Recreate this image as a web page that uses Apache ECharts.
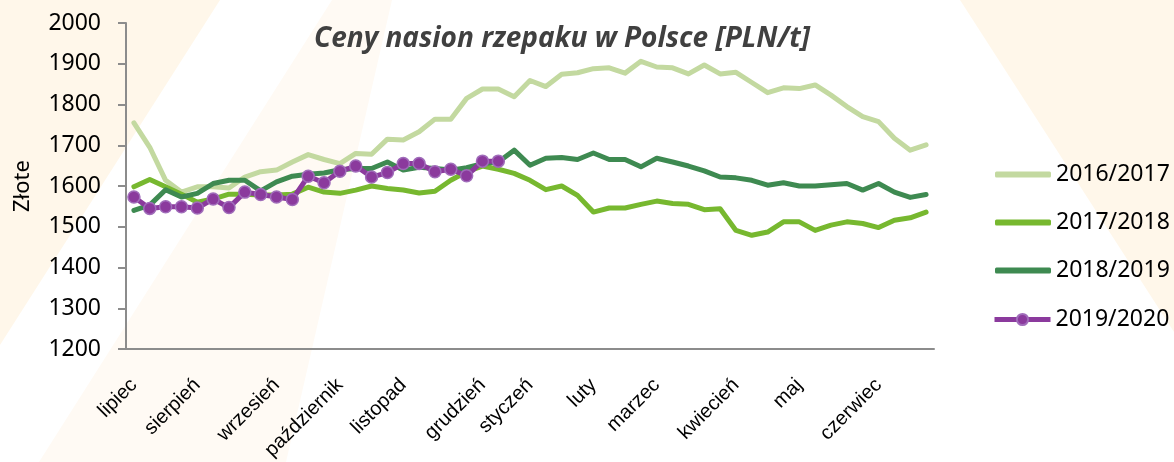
<!DOCTYPE html>
<html>
<head>
<meta charset="utf-8">
<script src="https://cdn.jsdelivr.net/npm/echarts@6/dist/echarts.min.js"></script>
<style>
  html, body { margin: 0; padding: 0; background: #fff; }
  #ceny-rzepaku { width: 1174px; height: 462px; }
</style>
</head>
<body>
<div id="ceny-rzepaku"></div>
<script>
// tygodnie sezonu (lipiec - czerwiec), podpis tylko przy pierwszym tygodniu miesiaca
const weeks = [
  'lipiec', '', '', '', 'sierpień', '', '', '', '', 'wrzesień', '', '', '', 'październik', '', '', '', 'listopad',
  '', '', '', '', 'grudzień', '', '', 'styczeń', '', '', '', 'luty', '', '', '', 'marzec', '', '', '', '',
  'kwiecień', '', '', '', 'maj', '', '', '', '', 'czerwiec', '', '', ''
]
const yTicks = [1200, 1300, 1400, 1500, 1600, 1700, 1800, 1900, 2000]
const s2016 = [
  1755, 1695, 1614, 1585, 1598, 1598, 1595, 1622, 1635, 1639, 1659, 1677, 1665, 1655, 1680, 1678, 1715,
  1713, 1733, 1764, 1764, 1815, 1838, 1838, 1819, 1859, 1844, 1874, 1878, 1888, 1890, 1877, 1906, 1892,
  1890, 1875, 1897, 1875, 1879, 1854, 1829, 1841, 1839, 1848, 1823, 1795, 1770, 1758, 1717, 1688, 1701
]
const s2017 = [
  1598, 1616, 1598, 1580, 1560, 1568, 1580, 1580, 1578, 1578, 1580, 1597, 1585, 1582, 1590, 1600, 1594,
  1590, 1583, 1587, 1614, 1635, 1649, 1641, 1631, 1614, 1591, 1600, 1577, 1536, 1546, 1546, 1555, 1563,
  1557, 1555, 1542, 1544, 1491, 1479, 1487, 1512, 1512, 1491, 1504, 1512, 1508, 1498, 1516, 1522, 1536
]
const s2018 = [
  1540, 1553, 1591, 1573, 1582, 1606, 1614, 1614, 1588, 1610, 1624, 1629, 1632, 1640, 1643, 1643, 1659,
  1639, 1646, 1643, 1639, 1645, 1655, 1659, 1688, 1651, 1668, 1670, 1665, 1681, 1665, 1665, 1647, 1668,
  1659, 1649, 1637, 1622, 1620, 1614, 1602, 1608, 1600, 1600, 1603, 1606, 1590, 1606, 1585, 1572, 1579
]
const s2019 = [
  1573, 1545, 1549, 1549, 1546, 1568, 1547, 1585, 1579, 1573, 1567, 1624, 1608, 1636, 1649, 1622, 1633,
  1655, 1655, 1635, 1641, 1625, 1661, 1661
]

const drawChart = function () {
  const chartDom = document.getElementById('ceny-rzepaku')
  const myChart = echarts.init(chartDom)
  const lineSeries = function (name, data, color) {
    return {
      name: name,
      type: 'line',
      data: data,
      symbol: 'none',
      lineStyle: { color: color, width: 5, cap: 'round', join: 'round' },
      itemStyle: { color: color }
    }
  }
  const legendText = { fontSize: 23, color: '#000', fontFamily: 'Noto Sans' }
  const option = {
    animation: false,
    textStyle: { fontFamily: 'Noto Sans', color: '#000' },
    graphic: [
      { type: 'polygon', z: -10, silent: true, shape: { points: [[0, 0], [220, 0], [0, 345]] }, style: { fill: '#fff7ea' } },
      { type: 'polygon', z: -10, silent: true, shape: { points: [[332, 0], [392, 0], [286, 462], [39, 462]] }, style: { fill: '#fffaf4' } },
      { type: 'polygon', z: -10, silent: true, shape: { points: [[960, 0], [1174, 0], [1174, 332]] }, style: { fill: '#fff7ea' } }
    ],
    title: {
      text: 'Ceny nasion rzepaku w Polsce [PLN/t]',
      left: 309,
      top: 20,
      textStyle: {
        fontFamily: 'Open Sans',
        fontStyle: 'italic',
        fontWeight: 'bold',
        fontSize: 28,
        color: '#404040'
      }
    },
    grid: { left: 126, right: 240, top: 23, bottom: 113, outerBoundsMode: 'none' },
    legend: [
      {
        orient: 'vertical',
        left: 990,
        top: 158,
        icon: 'roundRect',
        itemWidth: 56,
        itemHeight: 6,
        itemGap: 25,
        textStyle: legendText,
        data: ['2016/2017', '2017/2018', '2018/2019']
      },
      {
        orient: 'vertical',
        left: 987,
        top: 303,
        itemWidth: 56,
        itemHeight: 14,
        lineStyle: { width: 5 },
        textStyle: legendText,
        data: ['2019/2020']
      }
    ],
    xAxis: {
      type: 'category',
      data: weeks,
      boundaryGap: true,
      axisLine: { lineStyle: { color: '#8c8c8c', width: 2 } },
      axisTick: { interval: 0, length: 7, lineStyle: { color: '#8c8c8c', width: 2 } },
      axisLabel: {
        interval: 0,
        rotate: 45,
        margin: 33,
        fontFamily: 'Liberation Sans',
        fontSize: 20,
        color: '#000'
      }
    },
    yAxis: {
      type: 'value',
      min: yTicks[0],
      max: yTicks[yTicks.length - 1],
      interval: 100,
      name: 'Złote',
      nameLocation: 'middle',
      nameRotate: 90,
      nameGap: 92,
      nameTextStyle: { fontSize: 22, color: '#000' },
      splitLine: { show: false },
      axisLine: { show: true, lineStyle: { color: '#8c8c8c', width: 2 } },
      axisTick: { show: true, length: 8, lineStyle: { color: '#8c8c8c', width: 2 } },
      axisLabel: {
        margin: 25,
        fontSize: 23,
        color: '#000',
        formatter: function (v) { return String(v) }
      }
    },
    series: [
      lineSeries('2016/2017', s2016, '#c3d9a0'),
      lineSeries('2017/2018', s2017, '#77b82f'),
      lineSeries('2018/2019', s2018, '#3e8a51'),
      {
        name: '2019/2020',
        type: 'line',
        data: s2019,
        symbol: 'circle',
        symbolSize: 12,
        lineStyle: { color: '#8b3a9d', width: 5 },
        itemStyle: { color: '#8b3a9d', borderColor: '#a06cba', borderWidth: 1.5 }
      }
    ]
  }
  option && myChart.setOption(option)
  window.addEventListener('resize', function () {
    myChart.resize()
  })
}
drawChart()
</script>
</body>
</html>
